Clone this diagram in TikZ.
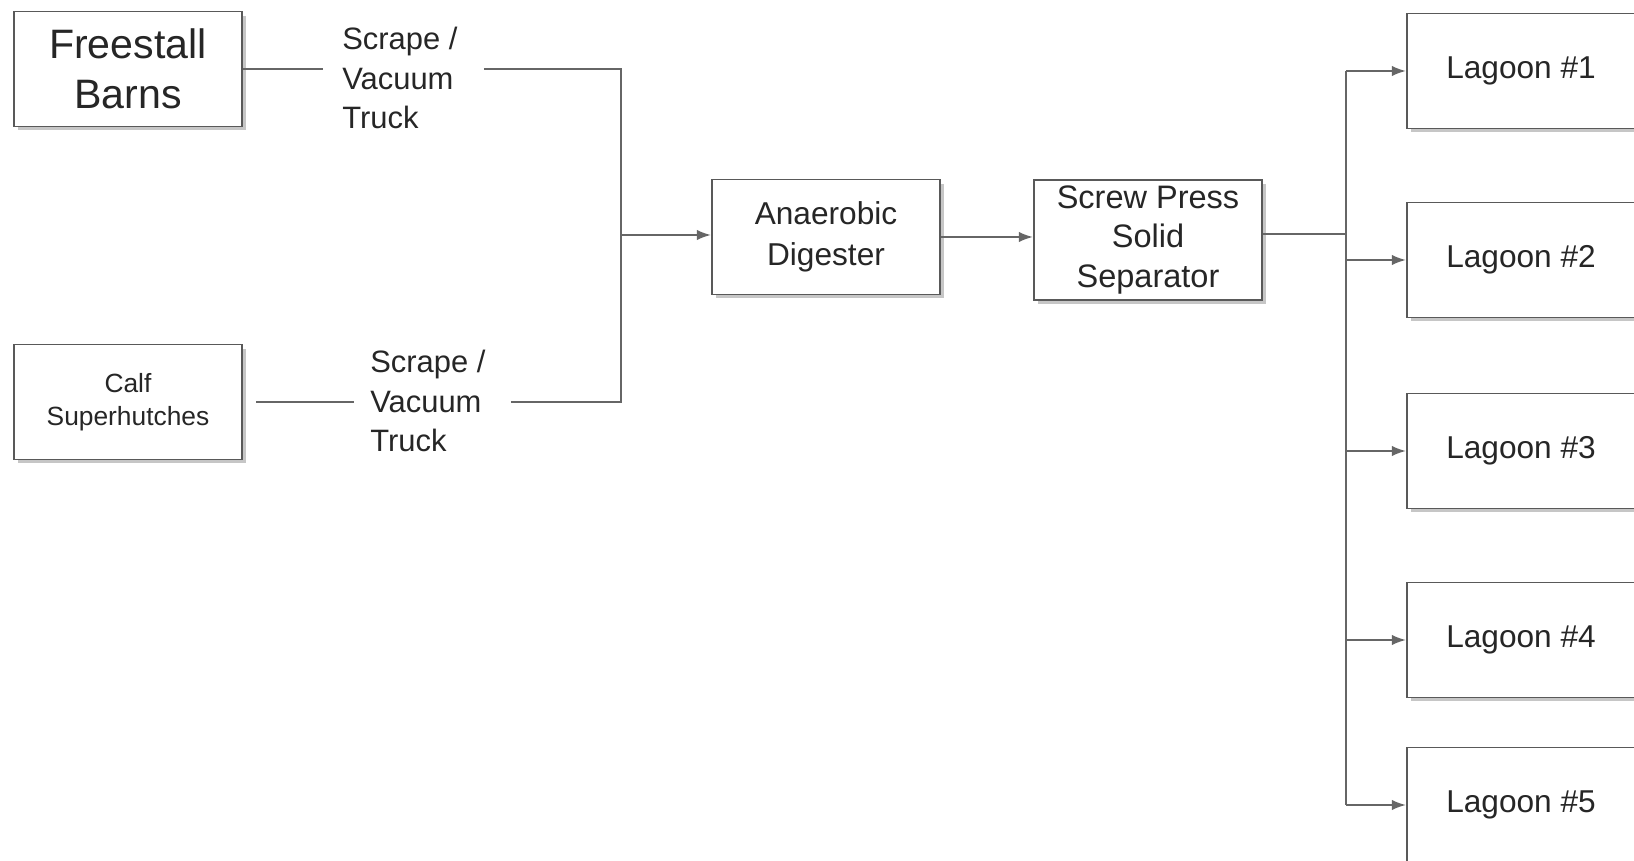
\documentclass[tikz,border=0pt]{standalone}
\usepackage{fontspec}
\setmainfont{Liberation Sans}
\usetikzlibrary{shadows,arrows.meta}

\tikzset{
  box/.style={draw=black!65,line width=1.1pt,fill=white,minimum width=4.57cm,minimum height=2.3cm,align=center,text=black!85,
    drop shadow={shadow xshift=0.08cm,shadow yshift=-0.08cm,opacity=0.45}},
  lbl/.style={align=left,text=black!85,inner sep=0pt,font=\fontsize{17.6}{22.4}\selectfont},
  link/.style={draw=black!60,line width=0.9pt},
  flow/.style={link,-{Latex[length=8pt,width=6pt]}}
}

\begin{document}
\begin{tikzpicture}[x=0.02cm,y=-0.02cm]
 \useasboundingbox (0,0) rectangle (1634,861);

 % sources
 \node[box,font=\fontsize{23.4}{28.3}\selectfont] (fb) at (128,69) {Freestall\\Barns};
 \node[box,font=\fontsize{15}{19}\selectfont] (cs) at (128,402) {Calf\\Superhutches};
 \node[lbl,anchor=north west] (trucka) at (342,27) {Scrape /\\Vacuum\\Truck};
 \node[lbl,anchor=north west] (truckb) at (370,350) {Scrape /\\Vacuum\\Truck};

 % treatment
 \node[box,font=\fontsize{18}{23}\selectfont] (ad) at (826,237) {Anaerobic\\Digester};
 \node[box,font=\fontsize{18.5}{22.4}\selectfont] (sp) at (1148,240) {Screw Press\\Solid\\Separator};

 % lagoons
 \foreach \i/\y in {1/71,2/260,3/451,4/640,5/805}
  \node[box,font=\fontsize{18}{22}\selectfont] (l\i) at (1521,\y) {Lagoon \#\i};

 \coordinate (jn) at (621,235);
 \coordinate (bus) at (1346,234);

 % connectors
 \draw[link] (fb.east) -- ([xshift=-0.38cm]trucka.west |- fb.east);
 \draw[link] ([xshift=0.52cm]trucka.east |- fb.east) -| (jn);
 \draw[link] ([xshift=0.26cm]cs.east) -- ([xshift=-0.32cm]truckb.west |- cs.east);
 \draw[link] ([xshift=0.5cm]truckb.east |- cs.east) -| (jn);
 \draw[flow] (jn) -- (jn -| ad.west);
 \draw[flow] (ad.east) -- (ad.east -| sp.west);
 \draw[link] (sp.east |- bus) -- (bus);
 \draw[link] (bus |- l1.west) -- (bus |- l5.west);
 \foreach \i in {1,...,5}
  \draw[flow] (bus |- l\i.west) -- (l\i.west);
\end{tikzpicture}
\end{document}
